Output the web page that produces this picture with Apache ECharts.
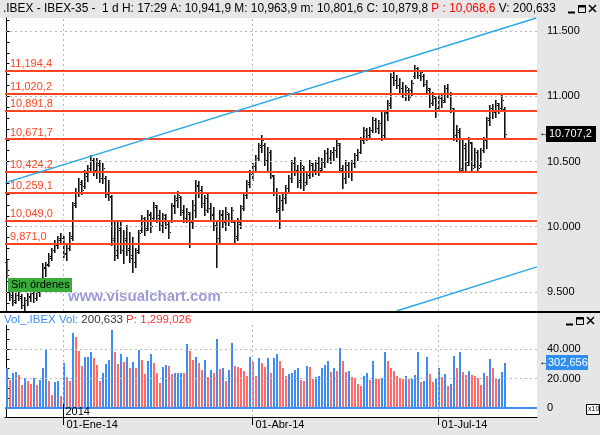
<!DOCTYPE html>
<html><head><meta charset="utf-8">
<script src="https://cdn.jsdelivr.net/npm/echarts@6/dist/echarts.min.js"></script>
<style>html,body{margin:0;padding:0;background:#fff}#c{width:600px;height:435px}</style>
</head><body><div id="c"></div>
<script>
// ---- data ----
const tickIdx = [19, 82, 144];
const tickLabels = ['01-Ene-14', '01-Abr-14', '01-Jul-14'];
const priceTicks = [9500, 10000, 10500, 11000, 11500];
const volTicks = [0, 20000, 40000];
const levels = [11194.4, 11020.2, 10891.8, 10671.7, 10424.2, 10259.1, 10049.0, 9871.0];
const trendUpper = [[-0.5, 10336], [176.6, 11600]];
const trendLower = [[130, 9354], [176.8, 9692]];
// [open, high, low, close]
const ohlc = [
[9730,9745,9615,9630],[9531,9554,9439,9462],[9477,9515,9400,9423],[9439,9500,9416,9477],[9477,9531,9439,9454],
[9469,9485,9377,9400],[9400,9462,9362,9439],[9439,9492,9400,9469],[9462,9508,9431,9492],[9492,9523,9423,9454],
[9454,9515,9439,9500],[9500,9569,9469,9538],[9538,9722,9523,9692],[9684,9730,9623,9707],[9715,9799,9699,9776],
[9761,9837,9745,9822],[9822,9898,9806,9875],[9860,9929,9837,9914],[9898,9952,9868,9917],[9914,9929,9768,9791],
[9799,9860,9745,9837],[9837,9960,9822,9929],[9914,10190,9898,10167],[10182,10297,10151,10266],[10266,10374,10236,10343],
[10328,10358,10251,10282],[10312,10435,10297,10412],[10389,10473,10351,10450],[10450,10550,10420,10511],[10511,10527,10397,10435],
[10420,10527,10374,10488],[10473,10511,10343,10374],[10374,10488,10335,10450],[10374,10389,10228,10251],[10266,10358,10205,10236],
[10228,10243,9860,9898],[9914,10052,9745,9784],[9822,10036,9761,9990],[9975,10052,9799,9822],[9822,9975,9722,9914],
[9898,10013,9784,9822],[9837,9960,9730,9761],[9784,9921,9653,9730],[9730,9837,9692,9806],[9822,9975,9799,9952],
[9975,10090,9960,10067],[10052,10075,9937,9975],[9990,10128,9975,10098],[10090,10113,9960,10006],[10067,10190,10052,10167],
[10151,10167,10036,10067],[10090,10128,9975,10013],[10013,10105,9960,10090],[10067,10098,9990,10021],[10021,10052,9914,9960],
[10052,10182,10036,10159],[10167,10243,10105,10220],[10205,10274,10151,10243],[10228,10236,10090,10113],[10128,10167,10036,10067],
[10067,10144,10036,10113],[10098,10113,9845,10036],[10036,10205,9990,10167],[10128,10358,10075,10320],[10312,10351,10228,10282],
[10282,10312,10151,10182],[10182,10243,10090,10128],[10220,10259,10113,10144],[10144,10182,10052,10090],[10098,10151,9975,10013],
[10006,10036,9692,9914],[9914,10128,9875,10090],[10098,10128,9998,10036],[10036,10151,9975,10113],[10098,10105,10013,10052],
[10052,10151,10036,10128],[10036,10044,9875,9914],[9929,10067,9898,10036],[10021,10167,9990,10144],[10159,10266,10128,10243],
[10243,10358,10220,10328],[10343,10435,10305,10404],[10420,10488,10358,10466],[10466,10550,10420,10527],[10527,10642,10511,10611],
[10626,10703,10573,10665],[10626,10642,10473,10511],[10511,10611,10420,10573],[10573,10588,10374,10397],[10389,10397,10243,10266],
[10266,10297,10113,10144],[10128,10243,9990,10205],[10205,10259,10128,10220],[10220,10320,10182,10297],[10297,10397,10259,10374],
[10374,10511,10343,10488],[10488,10534,10397,10435],[10435,10473,10305,10343],[10358,10511,10297,10473],[10450,10466,10282,10320],
[10343,10420,10328,10397],[10397,10511,10374,10488],[10473,10488,10389,10420],[10435,10511,10404,10488],[10488,10534,10397,10435],
[10450,10527,10435,10496],[10496,10588,10458,10565],[10565,10603,10496,10527],[10527,10588,10488,10573],[10573,10611,10511,10588],
[10588,10665,10534,10642],[10626,10642,10420,10450],[10435,10473,10297,10374],[10374,10511,10335,10473],[10473,10496,10381,10420],
[10420,10511,10358,10488],[10488,10565,10458,10550],[10550,10596,10511,10573],[10573,10688,10565,10665],[10665,10764,10642,10741],
[10741,10757,10665,10703],[10703,10764,10680,10741],[10741,10841,10726,10818],[10818,10833,10726,10757],[10757,10818,10718,10795],
[10795,10895,10665,10680],[10703,10895,10688,10872],[10879,10971,10818,10948],[10933,11178,10910,11148],[11148,11186,11086,11124],
[11124,11163,11063,11086],[11086,11140,11025,11063],[11063,11109,10994,11025],[11025,11086,10971,11071],[11048,11063,10971,10994],
[11048,11124,11010,11101],[11155,11239,11140,11216],[11216,11224,11140,11163],[11163,11201,11124,11186],[11155,11170,11079,11094],
[11094,11124,11033,11063],[11048,11063,10918,10948],[10948,11033,10933,11002],[10987,11002,10841,10895],[10910,11017,10895,10987],
[10987,11010,10918,10956],[10971,11086,10956,11063],[11063,11094,10994,11025],[11025,11033,10879,10910],[10895,10910,10665,10703],
[10703,10780,10657,10741],[10726,10757,10420,10435],[10450,10665,10435,10626],[10603,10642,10420,10473],[10496,10688,10473,10649],
[10642,10649,10420,10450],[10473,10603,10458,10573],[10573,10588,10420,10450],[10473,10603,10458,10588],[10588,10688,10573,10665],
[10665,10841,10603,10818],[10833,10933,10780,10910],[10895,10941,10833,10879],[10879,10971,10841,10948],[10933,10948,10872,10910],
[10910,11025,10895,10971],[10900,10918,10688,10707.2]
];
const volume = [
27300,19000,24000,24600,22400,15600,20600,18300,16000,20600,
15600,19000,27300,39300,18600,8800,17900,18300,8400,30300,
21200,18300,51100,48400,38900,28500,34500,34700,38200,33900,
29200,18300,23700,29600,32800,52900,38200,29600,36400,31000,
34500,27100,31000,27100,39300,32800,23300,31600,36600,30200,
23700,16700,28000,29200,28500,22800,23500,23700,24000,23500,
43400,38600,32800,34500,30200,25700,32300,21200,25700,23700,
46800,26700,27000,18300,25700,44300,28500,28000,27300,24900,
21900,34300,31000,21900,33900,30200,28000,33900,23700,33900,
36400,31600,27100,21900,22800,24000,25700,27100,
19000,18600,28500,28000,19900,21200,21900,27300,29200,32100,
24100,27300,24800,40500,31600,24400,24800,20800,20600,16300,
14700,21500,23700,19200,32100,19900,19700,20300,38200,31600,
27100,24800,21900,20300,19900,21900,19900,19900,22600,38200,
17900,18600,34300,23300,17400,20300,27300,20800,23000,15100,
16500,35000,27100,37700,24400,22600,24800,22600,21500,20300,
15600,23700,21500,33400,27100,19900,19900,24400,30265.6
];
// ---- helpers ----
const FONT = 'Liberation Sans';
const grp = (n, s) => String(n).replace(/\B(?=(\d{3})+(?!\d))/g, s);
const fmtAxis = v => grp(Math.round(v), '.');
const fmtLevel = v => { const p = v.toFixed(1).split('.'); return grp(p[0], ',') + ',' + p[1]; };
const fmtTag = v => { const p = v.toFixed(1).split('.'); return grp(p[0], '.') + ',' + p[1]; };
const N = ohlc.length;
const XMIN = -0.5, XMAX = 176.83;
const minorTicks = []; for (let v = 9416.67; v < 11600; v += 500 / 6) minorTicks.push(v);
const volMinor = []; for (let v = 0; v < 56000; v += 20000 / 3) volMinor.push(v);

const BLUE = '#3d8df5', RED = '#ff6a6a';
const dash = {color: '#b8b8b8', type: [2, 3], width: 1};

function renderOHLC(params, api) {
  const i = api.value(0);
  const o = api.coord([i, api.value(1)]), h = api.coord([i, api.value(2)]);
  const l = api.coord([i, api.value(3)]), c = api.coord([i, api.value(4)]);
  const x = Math.floor(o[0]);
  const yh = Math.round(h[1]), yl = Math.round(l[1]) + 1;
  const yo = Math.round(o[1]), yc = Math.round(c[1]);
  return {type: 'group', children: [
    {type: 'rect', shape: {x: x, y: yh, width: 1, height: yl - yh}, style: {fill: '#111'}},
    {type: 'rect', shape: {x: x + 1, y: yh, width: 1, height: yl - yh}, style: {fill: '#777'}},
    {type: 'rect', shape: {x: x - 1, y: yo, width: 1, height: 1}, style: {fill: '#111'}},
    {type: 'rect', shape: {x: x + 2, y: yc, width: 1, height: 1}, style: {fill: '#111'}}
  ]};
}
function renderVol(params, api) {
  const i = api.value(0), v = api.value(1);
  const t = api.coord([i, v]), b = api.coord([i, 0]);
  const up = i === 0 || v >= volume[i - 1];
  const x = Math.floor(t[0]);
  return {type: 'rect', shape: {x: x, y: Math.round(t[1]), width: 2, height: Math.round(b[1]) - Math.round(t[1])},
    style: {fill: up ? BLUE : RED}};
}

const chart = echarts.init(document.getElementById('c'), null, {renderer: 'canvas'});
const option = {
  animation: false,
  backgroundColor: '#e6e6e6',
  textStyle: {fontFamily: FONT},
  grid: [
    {left: 5, top: 18, width: 532, height: 293, show: true, backgroundColor: '#fff', borderWidth: 0},
    {left: 5, top: 325, width: 532, height: 92, show: true, backgroundColor: '#fff', borderWidth: 0}
  ],
  xAxis: [
    {gridIndex: 0, type: 'value', min: XMIN, max: XMAX, axisLine: {show: false}, axisTick: {show: false}, axisLabel: {show: false}, splitLine: {show: false}},
    {gridIndex: 1, type: 'value', min: XMIN, max: XMAX,
      axisLine: {show: true, onZero: false, lineStyle: {color: '#000'}},
      axisTick: {show: true, customValues: tickIdx, length: 8, lineStyle: {color: '#000'}},
      axisLabel: {customValues: tickIdx, formatter: v => tickLabels[tickIdx.indexOf(Math.round(v))] || '', align: 'left', margin: 2, padding: [0, 0, 0, 3], color: '#000', fontSize: 11, fontFamily: FONT},
      splitLine: {show: false}}
  ],
  yAxis: [
    {gridIndex: 0, type: 'value', position: 'right', min: 9354, max: 11600,
      axisLine: {show: true, lineStyle: {color: '#000'}},
      axisTick: {show: true, customValues: minorTicks, length: 3, lineStyle: {color: '#000'}},
      axisLabel: {customValues: priceTicks, formatter: fmtAxis, color: '#000', fontSize: 11, fontFamily: FONT, margin: 10},
      splitLine: {show: false}},
    {gridIndex: 1, type: 'value', position: 'right', min: -6102, max: 56271,
      axisLine: {show: true, lineStyle: {color: '#000'}},
      axisTick: {show: true, customValues: volMinor, length: 3, lineStyle: {color: '#000'}},
      axisLabel: {customValues: volTicks, formatter: fmtAxis, color: '#000', fontSize: 11, fontFamily: FONT, margin: 10},
      splitLine: {show: false}}
  ],
  series: [
    {type: 'line', xAxisIndex: 0, yAxisIndex: 0, data: [], silent: true, z: 1,
      markLine: {silent: true, symbol: 'none', label: {show: false}, lineStyle: dash, animation: false,
        data: priceTicks.map(v => ({yAxis: v})).concat(tickIdx.map(v => ({xAxis: v})))}},
    {type: 'line', xAxisIndex: 1, yAxisIndex: 1, data: [], silent: true, z: 1,
      markLine: {silent: true, symbol: 'none', label: {show: false}, lineStyle: dash, animation: false,
        data: volTicks.filter(v => v > 0).map(v => ({yAxis: v})).concat(tickIdx.map(v => ({xAxis: v})))}},
    {type: 'custom', xAxisIndex: 0, yAxisIndex: 0, renderItem: renderOHLC, z: 3,
      encode: {x: 0, y: [1, 2, 3, 4]}, data: ohlc.map((d, i) => [i, d[0], d[1], d[2], d[3]])},
    {type: 'line', xAxisIndex: 0, yAxisIndex: 0, data: [], silent: true, z: 4,
      markLine: {silent: true, symbol: 'none', animation: false,
        lineStyle: {color: '#ff4422', type: 'solid', width: 2},
        label: {show: true, position: 'insideStartTop', formatter: p => fmtLevel(p.value), color: '#ff4422', fontSize: 11, fontFamily: FONT, distance: [5, 1]},
        data: levels.map(v => ({yAxis: v}))}},
    {type: 'line', xAxisIndex: 0, yAxisIndex: 0, data: [], silent: true, z: 5,
      markLine: {silent: true, symbol: 'none', animation: false, label: {show: false},
        lineStyle: {color: '#2aa8e6', type: 'solid', width: 1.5},
        data: [[{coord: trendUpper[0]}, {coord: trendUpper[1]}], [{coord: trendLower[0]}, {coord: trendLower[1]}]]}},
    {type: 'custom', xAxisIndex: 1, yAxisIndex: 1, renderItem: renderVol, z: 3,
      encode: {x: 0, y: 1}, data: volume.map((v, i) => [i, v])},
    {type: 'line', xAxisIndex: 1, yAxisIndex: 1, data: [], silent: true, z: 4,
      markLine: {silent: true, symbol: 'none', animation: false, label: {show: false},
        lineStyle: {color: BLUE, type: 'solid', width: 2}, data: [{yAxis: 0}]}}
  ]
};
chart.setOption(option);

// ---- overlay texts positioned through the axes ----
const lastClose = ohlc[N - 1][3];
const lastVol = volume[N - 1];
const yClose = chart.convertToPixel({yAxisIndex: 0}, lastClose);
const yVol = chart.convertToPixel({yAxisIndex: 1}, lastVol);
const xJan = chart.convertToPixel({xAxisIndex: 1}, tickIdx[0]);
const xR = chart.convertToPixel({xAxisIndex: 0}, XMAX);

function buttons(x, y) {
  const s = {stroke: '#000', lineWidth: 1, fill: null};
  return [
    {type: 'line', shape: {x1: x, y1: y + 8.5, x2: x + 7, y2: y + 8.5}, style: {stroke: '#000', lineWidth: 2}},
    {type: 'rect', shape: {x: x + 10.5, y: y + 1.5, width: 7, height: 7}, style: s},
    {type: 'line', shape: {x1: x + 10.5, y1: y + 2.5, x2: x + 17.5, y2: y + 2.5}, style: {stroke: '#000', lineWidth: 2}},
    {type: 'line', shape: {x1: x + 21, y1: y + 1, x2: x + 28, y2: y + 8}, style: {stroke: '#000', lineWidth: 1.5}},
    {type: 'line', shape: {x1: x + 28, y1: y + 1, x2: x + 21, y2: y + 8}, style: {stroke: '#000', lineWidth: 1.5}}
  ];
}

chart.setOption({graphic: [
  {type: 'text', left: 3, top: 3, z: 10, style: {
    text: '{k|.IBEX - IBEX-35 -  1 d H: 17:29 A: 10,941,9 M: 10,963,9 m: 10,801,6 C: 10,879,8 }{r|P : 10,068,6}{k| V: 200,633}',
    rich: {k: {fill: '#000', fontSize: 11.9, fontFamily: FONT}, r: {fill: '#ff0000', fontSize: 11.9, fontFamily: FONT}}}},
  ...buttons(568, 4).map(e => Object.assign(e, {z: 10})),
  {type: 'rect', shape: {x: 0, y: 311, width: 600, height: 2}, style: {fill: '#000'}, z: 10},
  {type: 'rect', shape: {x: 0, y: 313, width: 537, height: 12}, style: {fill: '#fff'}, z: 1},
  {type: 'rect', shape: {x: 0, y: 18, width: 5, height: 293}, style: {fill: '#fff'}, z: 1},
  {type: 'rect', shape: {x: 0, y: 325, width: 5, height: 92}, style: {fill: '#fff'}, z: 1},
  {type: 'text', left: 4, top: 314, z: 10, style: {
    text: '{b|Vol_.IBEX Vol: }{k|200,633 }{r|P: 1,299,026}',
    rich: {b: {fill: '#3d8df5', fontSize: 11.5, fontFamily: FONT}, k: {fill: '#333', fontSize: 11.5, fontFamily: FONT}, r: {fill: '#ff3030', fontSize: 11.5, fontFamily: FONT}}}},
  ...buttons(566, 316).map(e => Object.assign(e, {z: 10})),
  {type: 'rect', shape: {x: 8, y: 278, width: 64, height: 14}, style: {fill: '#3aae3a'}, z: 10},
  {type: 'text', x: 11, y: 279, z: 11, style: {text: 'Sin órdenes', fill: '#000', fontSize: 11, fontFamily: FONT}},
  {type: 'text', x: 68, y: 289, z: 10, style: {text: 'www.visualchart.com', fill: '#9b9bd9', fontSize: 15, fontWeight: 'bold', fontFamily: FONT}},
  {type: 'text', x: xR + 2, y: yClose - 7, z: 10, style: {text: '←', fill: '#000', fontSize: 11, fontFamily: FONT}},
  {type: 'rect', shape: {x: 546, y: Math.round(yClose) - 8, width: 50, height: 16}, style: {fill: '#000'}, z: 10},
  {type: 'text', x: 549, y: Math.round(yClose) - 6, z: 11, style: {text: fmtTag(lastClose), fill: '#fff', fontSize: 11, fontFamily: FONT}},
  {type: 'text', x: xR + 2, y: yVol - 7, z: 10, style: {text: '←', fill: '#000', fontSize: 11, fontFamily: FONT}},
  {type: 'rect', shape: {x: 546, y: Math.round(yVol) - 8, width: 42, height: 15}, style: {fill: '#2f8ff0'}, z: 10},
  {type: 'text', x: 548, y: Math.round(yVol) - 6, z: 11, style: {text: grp(Math.round(lastVol * 10), ','), fill: '#fff', fontSize: 11, fontFamily: FONT}},
  {type: 'line', shape: {x1: Math.floor(xJan) + 0.5, y1: 404, x2: Math.floor(xJan) + 0.5, y2: 417}, style: {stroke: '#000', lineWidth: 1}, z: 10},
  {type: 'text', x: xJan + 2, y: 406, z: 10, style: {text: '2014', fill: '#000', fontSize: 11, fontFamily: FONT}},
  {type: 'rect', shape: {x: 586.5, y: 404.5, width: 13, height: 10}, style: {fill: '#fff', stroke: '#000', lineWidth: 1}, z: 10},
  {type: 'text', x: 588, y: 406, z: 11, style: {text: 'x10', fill: '#000', fontSize: 7, fontFamily: FONT}}
]});
</script></body></html>
